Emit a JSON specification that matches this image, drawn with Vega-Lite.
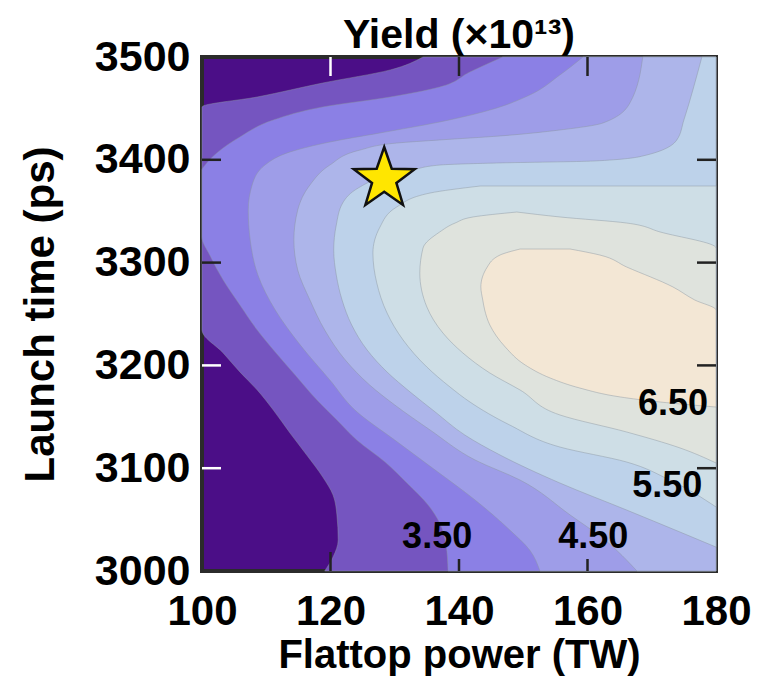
{
  "$schema": "https://vega.github.io/schema/vega-lite/v6.json",
  "width": 514,
  "height": 514,
  "autosize": {"type": "none"},
  "padding": {"left": 202, "top": 57, "right": 50, "bottom": 111},
  "title": {"text": "Yield (×10¹³)", "font": "Liberation Sans", "fontWeight": "bold", "fontSize": 41, "color": "black", "offset": -21},
  "config": {"view": {"stroke": "#2b2b2b", "strokeWidth": 4, "fill": "#4b0e87"}, "font": "Liberation Sans"},
  "layer": [
    {
      "data": {"values": [
      {"level": 3, "y": 3000, "xl": 119.1, "xr": 180},
      {"level": 3, "y": 3013.6, "xl": 120.4, "xr": 180},
      {"level": 3, "y": 3030.2, "xl": 121.2, "xr": 180},
      {"level": 3, "y": 3054.5, "xl": 121.0, "xr": 180},
      {"level": 3, "y": 3073.9, "xl": 120.4, "xr": 180},
      {"level": 3, "y": 3091.4, "xl": 118.8, "xr": 180},
      {"level": 3, "y": 3112.8, "xl": 116.3, "xr": 180},
      {"level": 3, "y": 3134.2, "xl": 113.7, "xr": 180},
      {"level": 3, "y": 3156.6, "xl": 111.1, "xr": 180},
      {"level": 3, "y": 3176.1, "xl": 108.6, "xr": 180},
      {"level": 3, "y": 3193.6, "xl": 105.9, "xr": 180},
      {"level": 3, "y": 3212.1, "xl": 103.3, "xr": 180},
      {"level": 3, "y": 3234.4, "xl": 100, "xr": 180},
      {"level": 3, "y": 3451.4, "xl": 100, "xr": 180},
      {"level": 3, "y": 3461.1, "xl": 108.6, "xr": 180},
      {"level": 3, "y": 3474.7, "xl": 118.8, "xr": 180},
      {"level": 3, "y": 3487.4, "xl": 129.3, "xr": 180},
      {"level": 3, "y": 3500, "xl": 134.4, "xr": 180},
      {"level": 3.5, "y": 3000, "xl": 138.3, "xr": 180},
      {"level": 3.5, "y": 3025.3, "xl": 138.0, "xr": 180},
      {"level": 3.5, "y": 3046.7, "xl": 137.0, "xr": 180},
      {"level": 3.5, "y": 3064.2, "xl": 135.2, "xr": 180},
      {"level": 3.5, "y": 3085.6, "xl": 131.9, "xr": 180},
      {"level": 3.5, "y": 3106.0, "xl": 128.5, "xr": 180},
      {"level": 3.5, "y": 3127.4, "xl": 124.1, "xr": 180},
      {"level": 3.5, "y": 3146.9, "xl": 121.0, "xr": 180},
      {"level": 3.5, "y": 3166.3, "xl": 117.9, "xr": 180},
      {"level": 3.5, "y": 3190.7, "xl": 114.5, "xr": 180},
      {"level": 3.5, "y": 3213.0, "xl": 111.4, "xr": 180},
      {"level": 3.5, "y": 3234.4, "xl": 108.6, "xr": 180},
      {"level": 3.5, "y": 3258.8, "xl": 105.9, "xr": 180},
      {"level": 3.5, "y": 3283.1, "xl": 103.3, "xr": 180},
      {"level": 3.5, "y": 3307.4, "xl": 101.2, "xr": 180},
      {"level": 3.5, "y": 3324.9, "xl": 100, "xr": 180},
      {"level": 3.5, "y": 3390.1, "xl": 100, "xr": 180},
      {"level": 3.5, "y": 3394.9, "xl": 100.5, "xr": 180},
      {"level": 3.5, "y": 3407.6, "xl": 102.5, "xr": 180},
      {"level": 3.5, "y": 3422.2, "xl": 105.9, "xr": 180},
      {"level": 3.5, "y": 3438.7, "xl": 111.1, "xr": 180},
      {"level": 3.5, "y": 3451.4, "xl": 118.8, "xr": 180},
      {"level": 3.5, "y": 3461.1, "xl": 129.3, "xr": 180},
      {"level": 3.5, "y": 3470.8, "xl": 137.0, "xr": 180},
      {"level": 3.5, "y": 3485.4, "xl": 141.7, "xr": 180},
      {"level": 3.5, "y": 3500, "xl": 146.8, "xr": 180},
      {"level": 4, "y": 3000, "xl": 152.6, "xr": 180},
      {"level": 4, "y": 3020.4, "xl": 151.0, "xr": 180},
      {"level": 4, "y": 3039.9, "xl": 147.9, "xr": 180},
      {"level": 4, "y": 3069.1, "xl": 142.5, "xr": 180},
      {"level": 4, "y": 3098.2, "xl": 136.3, "xr": 180},
      {"level": 4, "y": 3127.4, "xl": 130.0, "xr": 180},
      {"level": 4, "y": 3156.6, "xl": 123.8, "xr": 180},
      {"level": 4, "y": 3185.8, "xl": 119.9, "xr": 180},
      {"level": 4, "y": 3219.8, "xl": 115.3, "xr": 180},
      {"level": 4, "y": 3253.9, "xl": 111.4, "xr": 180},
      {"level": 4, "y": 3287.9, "xl": 108.7, "xr": 180},
      {"level": 4, "y": 3322.0, "xl": 107.5, "xr": 180},
      {"level": 4, "y": 3351.2, "xl": 107.2, "xr": 180},
      {"level": 4, "y": 3375.5, "xl": 107.8, "xr": 180},
      {"level": 4, "y": 3394.9, "xl": 109.8, "xr": 180},
      {"level": 4, "y": 3407.6, "xl": 113.7, "xr": 180},
      {"level": 4, "y": 3417.3, "xl": 119.9, "xr": 180},
      {"level": 4, "y": 3426.1, "xl": 127.7, "xr": 180},
      {"level": 4, "y": 3436.8, "xl": 137.0, "xr": 180},
      {"level": 4, "y": 3448.4, "xl": 144.8, "xr": 180},
      {"level": 4, "y": 3463.0, "xl": 151.0, "xr": 180},
      {"level": 4, "y": 3482.5, "xl": 155.7, "xr": 180},
      {"level": 4, "y": 3500, "xl": 159.3, "xr": 180},
      {"level": 4.5, "y": 3000, "xl": 167.7, "xr": 180},
      {"level": 4.5, "y": 3030.2, "xl": 162.7, "xr": 180},
      {"level": 4.5, "y": 3054.5, "xl": 157.3, "xr": 180},
      {"level": 4.5, "y": 3088.5, "xl": 149.5, "xr": 180},
      {"level": 4.5, "y": 3108.0, "xl": 142.5, "xr": 180},
      {"level": 4.5, "y": 3137.2, "xl": 135.5, "xr": 180},
      {"level": 4.5, "y": 3161.5, "xl": 130.0, "xr": 180},
      {"level": 4.5, "y": 3180.9, "xl": 126.1, "xr": 180},
      {"level": 4.5, "y": 3205.3, "xl": 122.3, "xr": 180},
      {"level": 4.5, "y": 3234.4, "xl": 119.1, "xr": 180},
      {"level": 4.5, "y": 3263.6, "xl": 116.8, "xr": 180},
      {"level": 4.5, "y": 3292.8, "xl": 114.9, "xr": 180},
      {"level": 4.5, "y": 3322.0, "xl": 114.3, "xr": 180},
      {"level": 4.5, "y": 3351.2, "xl": 114.9, "xr": 180},
      {"level": 4.5, "y": 3375.5, "xl": 116.8, "xr": 180},
      {"level": 4.5, "y": 3394.9, "xl": 119.9, "xr": 180},
      {"level": 4.5, "y": 3409.5, "xl": 124.6, "xr": 180},
      {"level": 4.5, "y": 3416.3, "xl": 130.3, "xr": 180},
      {"level": 4.5, "y": 3419.3, "xl": 137.0, "xr": 180},
      {"level": 4.5, "y": 3423.2, "xl": 146.4, "xr": 180},
      {"level": 4.5, "y": 3429.0, "xl": 155.7, "xr": 180},
      {"level": 4.5, "y": 3435.8, "xl": 162.4, "xr": 180},
      {"level": 4.5, "y": 3455.3, "xl": 166.6, "xr": 180},
      {"level": 4.5, "y": 3500, "xl": 168.6, "xr": 180},
      {"level": 5, "y": 3023.3, "xl": 180, "xr": 180},
      {"level": 5, "y": 3037.9, "xl": 174.4, "xr": 180},
      {"level": 5, "y": 3059.3, "xl": 166.1, "xr": 180},
      {"level": 5, "y": 3085.6, "xl": 155.7, "xr": 180},
      {"level": 5, "y": 3112.8, "xl": 146.4, "xr": 180},
      {"level": 5, "y": 3132.3, "xl": 140.9, "xr": 180},
      {"level": 5, "y": 3154.7, "xl": 136.3, "xr": 180},
      {"level": 5, "y": 3174.1, "xl": 132.4, "xr": 180},
      {"level": 5, "y": 3193.6, "xl": 128.8, "xr": 180},
      {"level": 5, "y": 3215.0, "xl": 125.7, "xr": 180},
      {"level": 5, "y": 3239.3, "xl": 123.3, "xr": 180},
      {"level": 5, "y": 3263.6, "xl": 121.8, "xr": 180},
      {"level": 5, "y": 3287.9, "xl": 120.9, "xr": 180},
      {"level": 5, "y": 3312.3, "xl": 120.5, "xr": 180},
      {"level": 5, "y": 3336.6, "xl": 120.9, "xr": 180},
      {"level": 5, "y": 3358.0, "xl": 121.9, "xr": 180},
      {"level": 5, "y": 3372.5, "xl": 124.3, "xr": 180},
      {"level": 5, "y": 3382.3, "xl": 127.7, "xr": 180},
      {"level": 5, "y": 3390.1, "xl": 132.8, "xr": 180},
      {"level": 5, "y": 3394.9, "xl": 137.0, "xr": 180},
      {"level": 5, "y": 3396.9, "xl": 145.9, "xr": 180},
      {"level": 5, "y": 3398.8, "xl": 160.9, "xr": 180},
      {"level": 5, "y": 3403.7, "xl": 168.6, "xr": 180},
      {"level": 5, "y": 3419.3, "xl": 173.9, "xr": 180},
      {"level": 5, "y": 3438.7, "xl": 175.0, "xr": 180},
      {"level": 5, "y": 3467.9, "xl": 176.4, "xr": 180},
      {"level": 5, "y": 3500, "xl": 177.8, "xr": 180},
      {"level": 5.5, "y": 3062.3, "xl": 180, "xr": 180},
      {"level": 5.5, "y": 3088.5, "xl": 172.8, "xr": 180},
      {"level": 5.5, "y": 3106.0, "xl": 166.1, "xr": 180},
      {"level": 5.5, "y": 3120.6, "xl": 155.7, "xr": 180},
      {"level": 5.5, "y": 3142.0, "xl": 147.9, "xr": 180},
      {"level": 5.5, "y": 3164.4, "xl": 141.7, "xr": 180},
      {"level": 5.5, "y": 3179.0, "xl": 138.6, "xr": 180},
      {"level": 5.5, "y": 3198.4, "xl": 135.0, "xr": 180},
      {"level": 5.5, "y": 3224.7, "xl": 131.3, "xr": 180},
      {"level": 5.5, "y": 3251.0, "xl": 128.8, "xr": 180},
      {"level": 5.5, "y": 3280.2, "xl": 127.2, "xr": 180},
      {"level": 5.5, "y": 3309.3, "xl": 126.6, "xr": 180},
      {"level": 5.5, "y": 3334.6, "xl": 127.7, "xr": 180},
      {"level": 5.5, "y": 3354.1, "xl": 130.3, "xr": 180},
      {"level": 5.5, "y": 3367.7, "xl": 135.5, "xr": 180},
      {"level": 5.5, "y": 3374.5, "xl": 143.3, "xr": 180},
      {"level": 6, "y": 3105.1, "xl": 180, "xr": 180},
      {"level": 6, "y": 3119.7, "xl": 174.4, "xr": 180},
      {"level": 6, "y": 3135.2, "xl": 166.1, "xr": 180},
      {"level": 6, "y": 3151.8, "xl": 155.7, "xr": 180},
      {"level": 6, "y": 3176.1, "xl": 149.5, "xr": 180},
      {"level": 6, "y": 3192.6, "xl": 144.8, "xr": 180},
      {"level": 6, "y": 3212.1, "xl": 140.6, "xr": 180},
      {"level": 6, "y": 3231.5, "xl": 137.5, "xr": 180},
      {"level": 6, "y": 3256.8, "xl": 135.0, "xr": 180},
      {"level": 6, "y": 3289.9, "xl": 133.9, "xr": 180},
      {"level": 6, "y": 3314.2, "xl": 134.4, "xr": 180},
      {"level": 6, "y": 3329.8, "xl": 137.0, "xr": 171.3},
      {"level": 6, "y": 3338.5, "xl": 139.4, "xr": 166.1},
      {"level": 6, "y": 3344.4, "xl": 142.2, "xr": 155.7},
      {"level": 6, "y": 3349.2, "xl": 149.0, "xr": 149.0},
      {"level": 6.5, "y": 3159.5, "xl": 180, "xr": 180},
      {"level": 6.5, "y": 3164.4, "xl": 171.3, "xr": 180},
      {"level": 6.5, "y": 3169.3, "xl": 165.1, "xr": 180},
      {"level": 6.5, "y": 3178.0, "xl": 158.8, "xr": 180},
      {"level": 6.5, "y": 3187.7, "xl": 154.2, "xr": 180},
      {"level": 6.5, "y": 3200.4, "xl": 150.3, "xr": 180},
      {"level": 6.5, "y": 3217.9, "xl": 147.2, "xr": 180},
      {"level": 6.5, "y": 3239.3, "xl": 144.8, "xr": 180},
      {"level": 6.5, "y": 3253.9, "xl": 144.0, "xr": 180},
      {"level": 6.5, "y": 3263.6, "xl": 143.7, "xr": 176.7},
      {"level": 6.5, "y": 3276.3, "xl": 143.4, "xr": 173.3},
      {"level": 6.5, "y": 3295.7, "xl": 144.4, "xr": 166.1},
      {"level": 6.5, "y": 3307.4, "xl": 146.4, "xr": 161.9},
      {"level": 6.5, "y": 3313.2, "xl": 149.5, "xr": 157.3}
      ]},
      "mark": {"type": "area", "orient": "horizontal", "interpolate": "monotone", "stroke": "#8a94a0", "strokeWidth": 1, "strokeOpacity": 0.45},
      "encoding": {
        "y": {"field": "y", "type": "quantitative", "scale": {"domain": [3000, 3500], "nice": false, "zero": false},
          "axis": {"orient": "left", "values": [3000, 3100, 3200, 3300, 3400, 3500], "format": "d", "title": "Launch time (ps)",
            "titleFont": "Liberation Sans", "titleFontSize": 42, "titleFontWeight": "bold", "titleColor": "black", "titlePadding": 32,
            "labelFont": "Liberation Sans", "labelFontSize": 43, "labelFontWeight": "bold", "labelColor": "black", "labelPadding": 12,
            "labelFlush": false, "labelOverlap": false,
            "grid": false, "ticks": false, "tickSize": 0, "domain": false}},
        "x": {"field": "xl", "type": "quantitative", "scale": {"domain": [100, 180], "nice": false, "zero": false},
          "axis": {"orient": "bottom", "values": [100, 120, 140, 160, 180], "format": "d", "title": "Flattop power (TW)",
            "titleFont": "Liberation Sans", "titleFontSize": 40, "titleFontWeight": "bold", "titleColor": "black", "titlePadding": 3,
            "labelFont": "Liberation Sans", "labelFontSize": 42, "labelFontWeight": "bold", "labelColor": "black", "labelPadding": 20,
            "labelFlush": false, "labelOverlap": false,
            "grid": false, "ticks": false, "tickSize": 0, "domain": false}},
        "x2": {"field": "xr"},
        "color": {"field": "level", "type": "ordinal",
          "scale": {"domain": [3, 3.5, 4, 4.5, 5, 5.5, 6, 6.5],
                    "range": ["#7555c0", "#8b80e5", "#9e9de8", "#adb5ea", "#bdd2ea", "#cedee6", "#dfe3dd", "#f3e7d5"]},
          "legend": null}
      }
    },
    {
      "data": {"values": [{"x": 120, "y": 3500}, {"x": 140, "y": 3500}, {"x": 160, "y": 3500}]},
      "mark": {"type": "tick", "orient": "vertical", "thickness": 2.5, "size": 19, "yOffset": 9.5, "opacity": 1},
      "encoding": {
        "x": {"field": "x", "type": "quantitative", "scale": {"domain": [100, 180], "nice": false, "zero": false}},
        "y": {"field": "y", "type": "quantitative", "scale": {"domain": [3000, 3500], "nice": false, "zero": false}},
        "color": {"condition": {"test": "datum.x == 120", "value": "#ffffff"}, "value": "#222222"}
      }
    },
    {
      "data": {"values": [{"x": 120, "y": 3000}]},
      "mark": {"type": "tick", "orient": "vertical", "thickness": 2.5, "size": 19, "yOffset": -9.5, "color": "#222222", "opacity": 1},
      "encoding": {
        "x": {"field": "x", "type": "quantitative", "scale": {"domain": [100, 180], "nice": false, "zero": false}},
        "y": {"field": "y", "type": "quantitative", "scale": {"domain": [3000, 3500], "nice": false, "zero": false}}
      }
    },
    {
      "data": {"values": [{"x": 140, "y": 3000}, {"x": 160, "y": 3000}]},
      "mark": {"type": "tick", "orient": "vertical", "thickness": 2.5, "size": 12, "yOffset": -6, "color": "#222222", "opacity": 1},
      "encoding": {
        "x": {"field": "x", "type": "quantitative", "scale": {"domain": [100, 180], "nice": false, "zero": false}},
        "y": {"field": "y", "type": "quantitative", "scale": {"domain": [3000, 3500], "nice": false, "zero": false}}
      }
    },
    {
      "data": {"values": [{"x": 100, "y": 3100}, {"x": 100, "y": 3200}, {"x": 100, "y": 3300}, {"x": 100, "y": 3400}]},
      "mark": {"type": "tick", "orient": "horizontal", "thickness": 2.5, "size": 19, "xOffset": 9.5, "opacity": 1},
      "encoding": {
        "x": {"field": "x", "type": "quantitative", "scale": {"domain": [100, 180], "nice": false, "zero": false}},
        "y": {"field": "y", "type": "quantitative", "scale": {"domain": [3000, 3500], "nice": false, "zero": false}},
        "color": {"condition": {"test": "datum.y == 3100 || datum.y == 3200", "value": "#ffffff"}, "value": "#222222"}
      }
    },
    {
      "data": {"values": [{"x": 180, "y": 3100}, {"x": 180, "y": 3200}, {"x": 180, "y": 3300}, {"x": 180, "y": 3400}]},
      "mark": {"type": "tick", "orient": "horizontal", "thickness": 2.5, "size": 19, "xOffset": -9.5, "color": "#222222", "opacity": 1},
      "encoding": {
        "x": {"field": "x", "type": "quantitative", "scale": {"domain": [100, 180], "nice": false, "zero": false}},
        "y": {"field": "y", "type": "quantitative", "scale": {"domain": [3000, 3500], "nice": false, "zero": false}}
      }
    },
    {
      "data": {"values": [{"x": 128.36, "y": 3381.3}]},
      "mark": {"type": "point", "shape": "M0,-1L0.2351,-0.3236L0.9511,-0.309L0.3804,0.1236L0.5878,0.809L0,0.4L-0.5878,0.809L-0.3804,0.1236L-0.9511,-0.309L-0.2351,-0.3236Z",
        "filled": true, "size": 4100, "color": "#ffe600", "stroke": "#111111", "strokeWidth": 2.5, "strokeJoin": "miter", "opacity": 1},
      "encoding": {
        "x": {"field": "x", "type": "quantitative", "scale": {"domain": [100, 180], "nice": false, "zero": false}},
        "y": {"field": "y", "type": "quantitative", "scale": {"domain": [3000, 3500], "nice": false, "zero": false}}
      }
    },
    {
      "data": {"values": [
        {"x": 136.6, "y": 3033.1, "label": "3.50"},
        {"x": 160.9, "y": 3033.1, "label": "4.50"},
        {"x": 172.4, "y": 3082.7, "label": "5.50"},
        {"x": 173.3, "y": 3162.5, "label": "6.50"}
      ]},
      "mark": {"type": "text", "font": "Liberation Sans", "fontWeight": "bold", "fontSize": 36, "color": "black"},
      "encoding": {
        "x": {"field": "x", "type": "quantitative", "scale": {"domain": [100, 180], "nice": false, "zero": false}},
        "y": {"field": "y", "type": "quantitative", "scale": {"domain": [3000, 3500], "nice": false, "zero": false}},
        "text": {"field": "label"}
      }
    }
  ]
}
